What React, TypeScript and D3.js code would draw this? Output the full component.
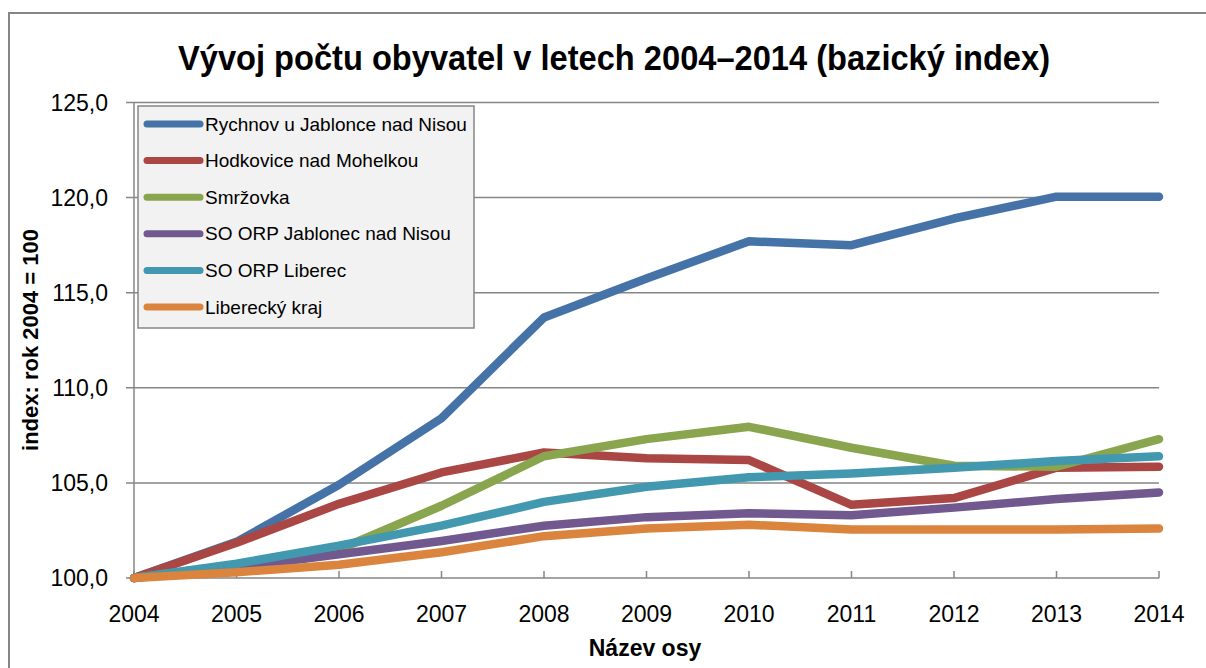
import React from 'react';
import { scaleLinear, line } from 'd3';

const width = 1206;
const height = 668;

const years = [2004, 2005, 2006, 2007, 2008, 2009, 2010, 2011, 2012, 2013, 2014];
const yTicks = [100, 105, 110, 115, 120, 125];

const seriesNames = [
    'Rychnov u Jablonce nad Nisou',
    'Hodkovice nad Mohelkou',
    'Smržovka',
    'SO ORP Jablonec nad Nisou',
    'SO ORP Liberec',
    'Liberecký kraj',
];
const seriesColors = ['#4572A7', '#AA4643', '#89A54E', '#71588F', '#4198AF', '#DB843D'];

const rychnov = [100, 101.9, 104.9, 108.4, 113.7, 115.75, 117.7, 117.5, 118.9, 120.05, 120.05];
const hodkovice = [100, 101.85, 103.9, 105.55, 106.6, 106.3, 106.2, 103.85, 104.2, 105.8, 105.85];
const smrzovka = [100, 100.7, 101.5, 103.8, 106.4, 107.3, 107.95, 106.85, 105.9, 105.85, 107.3];
const jablonecOrp = [100, 100.55, 101.25, 101.95, 102.75, 103.2, 103.4, 103.3, 103.7, 104.15, 104.5];
const liberecOrp = [100, 100.75, 101.7, 102.75, 104.0, 104.8, 105.3, 105.5, 105.8, 106.15, 106.4];
const kraj = [100, 100.3, 100.7, 101.35, 102.2, 102.6, 102.8, 102.55, 102.55, 102.55, 102.6];

const seriesValues = [rychnov, hodkovice, smrzovka, jablonecOrp, liberecOrp, kraj];

const font = "'Liberation Sans', Arial, sans-serif";
const gridColor = '#868686';

const x = scaleLinear().domain([2004, 2014]).range([134, 1159]);
const y = scaleLinear().domain([100, 125]).range([578, 102.5]);

const path = line<number>()
    .x((d, i) => x(years[i]))
    .y(d => y(d));

const fmt = (v: number) => v.toFixed(1).replace('.', ',');

export default function App() {
    return (
        <svg width={width} height={height} style={{ position: 'absolute', left: 0, top: 0, background: '#fff' }}
            fontFamily={font}>
            {/* chart frame */}
            <rect x={9} y={13} width={1210} height={700} fill="none" stroke={gridColor} strokeWidth={2} />

            <text x={614} y={70} textAnchor="middle" fontSize={35} fontWeight="bold" fill="#000"
                textLength={872} lengthAdjust="spacingAndGlyphs">
                Vývoj počtu obyvatel v letech 2004–2014 (bazický index)
            </text>

            {/* gridlines + y labels */}
            {yTicks.map(t => (
                <g key={t}>
                    <line x1={126} x2={1159} y1={y(t)} y2={y(t)} stroke={gridColor} strokeWidth={1.5} />
                    <text x={108} y={y(t)} dy="0.35em" textAnchor="end" fontSize={23}>{fmt(t)}</text>
                </g>
            ))}
            <line x1={134} x2={134} y1={y(125)} y2={y(100)} stroke={gridColor} strokeWidth={1.5} />

            {/* x ticks + labels */}
            {years.map(yr => (
                <g key={yr}>
                    <line x1={x(yr)} x2={x(yr)} y1={y(100) - 7} y2={y(100)} stroke={gridColor} strokeWidth={1.5} />
                    <text x={x(yr)} y={622} textAnchor="middle" fontSize={23}>{yr}</text>
                </g>
            ))}

            <text x={645} y={656} textAnchor="middle" fontSize={23} fontWeight="bold">Název osy</text>
            <text transform="translate(38,340) rotate(-90)" textAnchor="middle" fontSize={22} fontWeight="bold">
                index: rok 2004 = 100
            </text>

            {/* series */}
            {seriesValues.map((vals, i) => (
                <path key={seriesNames[i]} d={path(vals) || ''} fill="none" stroke={seriesColors[i]}
                    strokeWidth={8.5} strokeLinejoin="round" strokeLinecap="round" />
            ))}

            {/* legend */}
            <rect x={138} y={106} width={336} height={222} fill="#f2f2f2" stroke={gridColor} strokeWidth={1.5} />
            {seriesNames.map((name, i) => {
                const ly = 124 + i * 36.6;
                return (
                    <g key={name}>
                        <line x1={147} x2={200} y1={ly} y2={ly} stroke={seriesColors[i]} strokeWidth={7} strokeLinecap="round" />
                        <text x={205} y={ly} dy="0.35em" fontSize={19}>{name}</text>
                    </g>
                );
            })}
        </svg>
    );
}
